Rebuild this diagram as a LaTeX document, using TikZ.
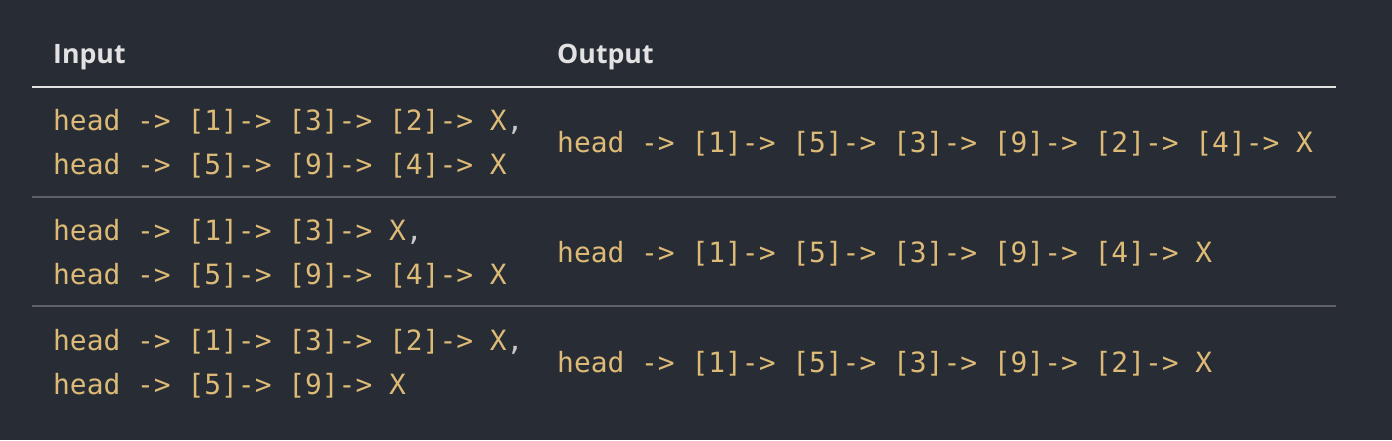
\documentclass[tikz,border=0pt]{standalone}
\usepackage{fontspec}
\newfontfamily\codefont{DejaVu Sans Mono}
\newfontfamily\headfont{Open Sans}[BoldFont={* Bold}]
\definecolor{bg}{HTML}{282C34}
\definecolor{codecol}{HTML}{DDBB77}
\definecolor{headcol}{HTML}{E2E2E2}
\definecolor{sepcol}{HTML}{5F6167}
\definecolor{commacol}{HTML}{C8C8C8}
\tikzset{
  code/.style={anchor=base west, inner sep=0pt, text=codecol, font=\codefont\fontsize{27.9}{30}\selectfont},
  head/.style={anchor=base west, inner sep=0pt, text=headcol, font=\headfont\bfseries\fontsize{26.7}{28}\selectfont},
  hline/.style={draw=headcol, line width=2pt},
  sline/.style={draw=sepcol, line width=2pt}
}
\newcommand{\cm}{\textcolor{commacol}{,}}
\begin{document}
\begin{tikzpicture}[x=1pt,y=-1pt]
\fill[bg] (0,0) rectangle (1392,440);
\useasboundingbox (0,0) rectangle (1392,440);
\node[head] (hin) at (53,63) {Input};
\node[head] (hout) at (557,63) {Output};
\coordinate (l0a) at (32,87); \coordinate (l0b) at (1336,87);
\coordinate (l1a) at (32,197); \coordinate (l1b) at (1336,197);
\coordinate (l2a) at (32,306); \coordinate (l2b) at (1336,306);
\draw[hline] (l0a) -- (l0b);
\draw[sline] (l1a) -- (l1b);
\draw[sline] (l2a) -- (l2b);
% row 1
\node[code] (r1a) at (53,130) {head -> [1]-> [3]-> [2]-> X\cm};
\node[code] (r1b) at (53,174) {head -> [5]-> [9]-> [4]-> X};
\node[code] (r1o) at (557,152) {head -> [1]-> [5]-> [3]-> [9]-> [2]-> [4]-> X};
% row 2
\node[code] (r2a) at (53,240) {head -> [1]-> [3]-> X\cm};
\node[code] (r2b) at (53,284) {head -> [5]-> [9]-> [4]-> X};
\node[code] (r2o) at (557,262) {head -> [1]-> [5]-> [3]-> [9]-> [4]-> X};
% row 3
\node[code] (r3a) at (53,350) {head -> [1]-> [3]-> [2]-> X\cm};
\node[code] (r3b) at (53,394) {head -> [5]-> [9]-> X};
\node[code] (r3o) at (557,372) {head -> [1]-> [5]-> [3]-> [9]-> [2]-> X};
\end{tikzpicture}
\end{document}
